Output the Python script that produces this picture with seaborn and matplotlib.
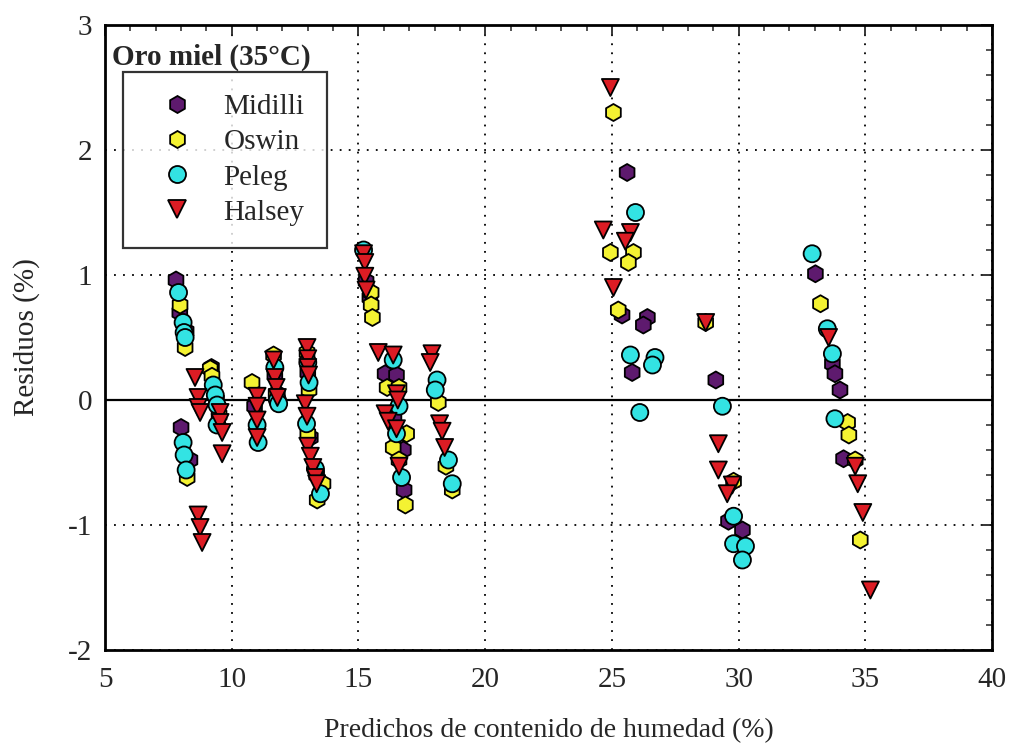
import numpy as np
import pandas as pd
import matplotlib
matplotlib.use("Agg")
import matplotlib.pyplot as plt
import seaborn as sns

# Residuals of the sorption models vs predicted moisture content
midilli_x = [7.8, 7.95, 8.2, 8.0, 8.35, 9.2, 9.4, 10.9, 11.7, 11.8, 13.0, 13.1, 13.35,
             15.3, 15.45, 16.05, 16.5, 16.77, 16.8, 16.4, 25.6, 25.4, 26.4, 26.24, 25.8,
             29.1, 29.6, 30.15, 33.03, 33.7, 33.8, 34.0, 34.14]
midilli_y = [0.96, 0.70, 0.55, -0.22, -0.48, 0.26, 0.0, -0.05, 0.2, 0.05, 0.22, -0.3, -0.6,
             0.95, 0.82, 0.21, 0.2, -0.4, -0.72, -0.15, 1.82, 0.68, 0.66, 0.6, 0.22,
             0.16, -0.97, -1.04, 1.01, 0.29, 0.21, 0.08, -0.47]

oswin_x = [7.96, 8.16, 8.24, 9.15, 9.22, 9.5, 10.8, 11.65, 11.75, 12.97, 13.05, 13.0, 13.6,
           13.37, 15.5, 15.5, 15.55, 16.13, 16.6, 16.9, 16.37, 16.6, 16.85, 18.15, 18.45,
           18.7, 25.06, 24.94, 25.85, 25.65, 25.25, 28.7, 29.8, 33.23, 34.3, 34.35, 34.6, 34.8]
oswin_y = [0.76, 0.42, -0.62, 0.25, 0.19, -0.12, 0.14, 0.36, 0.05, 0.38, 0.08, -0.27, -0.67,
           -0.8, 0.86, 0.76, 0.66, 0.1, 0.1, -0.27, -0.38, -0.48, -0.84, -0.02, -0.53,
           -0.72, 2.3, 1.18, 1.18, 1.1, 0.72, 0.62, -0.65, 0.77, -0.18, -0.28, -0.48, -1.12]

peleg_x = [7.9, 8.08, 8.12, 8.16, 8.08, 8.12, 8.2, 9.27, 9.35, 9.42, 9.42, 11.04, 11.0,
           11.7, 11.8, 11.85, 13.0, 13.05, 12.95, 13.5, 13.3, 15.2, 16.37, 16.6, 16.5, 16.7,
           18.1, 18.03, 18.55, 18.7, 25.93, 25.73, 26.7, 26.6, 26.1, 29.36, 29.8, 29.8,
           30.27, 30.15, 32.9, 33.5, 33.7, 33.8]
peleg_y = [0.86, 0.62, 0.54, 0.5, -0.34, -0.44, -0.56, 0.12, 0.04, -0.04, -0.2, -0.34, -0.2,
           0.26, 0.0, -0.03, 0.3, 0.14, -0.19, -0.75, -0.55, 1.2, 0.32, -0.05, -0.27, -0.62,
           0.16, 0.08, -0.48, -0.67, 1.5, 0.36, 0.34, 0.28, -0.1, -0.05, -0.93, -1.15,
           -1.17, -1.28, 1.17, 0.57, 0.37, -0.15]

halsey_x = [8.55, 8.67, 8.67, 8.75, 8.67, 8.75, 8.83, 9.54, 9.54, 9.62, 9.62, 11.0, 11.0,
            11.0, 11.0, 11.65, 11.7, 11.75, 11.8, 12.97, 13.0, 13.0, 13.03, 12.9, 12.97,
            13.0, 13.1, 13.2, 13.3, 13.35, 15.2, 15.25, 15.25, 15.3, 15.78, 16.37, 16.5,
            16.55, 16.05, 16.17, 16.5, 16.6, 17.9, 17.83, 18.2, 18.3, 18.4, 24.94, 24.66,
            25.73, 25.53, 25.06, 28.7, 29.2, 29.2, 29.75, 29.55, 33.55, 34.6, 34.7, 34.9, 35.2]
halsey_y = [0.18, 0.02, -0.06, -0.1, -0.92, -1.02, -1.14, -0.1, -0.18, -0.26, -0.43, 0.03,
            -0.05, -0.16, -0.3, 0.32, 0.18, 0.1, 0.02, 0.42, 0.33, 0.26, 0.2, -0.03, -0.13,
            -0.37, -0.45, -0.54, -0.62, -0.67, 1.17, 1.1, 0.99, 0.88, 0.38, 0.36, 0.05,
            0.0, -0.11, -0.17, -0.23, -0.53, 0.37, 0.3, -0.19, -0.25, -0.38, 2.5, 1.36,
            1.34, 1.27, 0.9, 0.62, -0.35, -0.56, -0.68, -0.75, 0.5, -0.53, -0.67, -0.9, -1.52]

models = ["Midilli", "Oswin", "Peleg", "Halsey"]
x_ticks = [5, 10, 15, 20, 25, 30, 35, 40]
y_ticks = [-2, -1, 0, 1, 2, 3]

frames = []
for name, xs, ys in zip(models,
                        [midilli_x, oswin_x, peleg_x, halsey_x],
                        [midilli_y, oswin_y, peleg_y, halsey_y]):
    frames.append(pd.DataFrame({"pred": xs, "resid": ys, "model": name}))
df = pd.concat(frames, ignore_index=True)

palette = {"Midilli": "#5e1a6e", "Oswin": "#f4f232", "Peleg": "#33e3e3", "Halsey": "#dc1c24"}
markers = {"Midilli": "h", "Oswin": "h", "Peleg": "o", "Halsey": "v"}

sns.set_style("white")
plt.rcParams["font.family"] = ["Liberation Serif", "DejaVu Serif"]
plt.rcParams["axes.unicode_minus"] = False

fig = plt.figure(figsize=(10.12, 7.51), dpi=100)
ax = fig.add_axes([0.1038, 0.1345, 0.8765, 0.8322])

ax.axhline(0, color="black", lw=1.6, zorder=1)

sns.scatterplot(data=df, x="pred", y="resid", hue="model", style="model",
                palette=palette, markers=markers, hue_order=models, style_order=models,
                s=150, edgecolor="black", linewidth=1.3, ax=ax, zorder=3, legend=True)

ax.set_xlim(5, 40)
ax.set_ylim(-2, 3)
ax.set_xticks(x_ticks)
ax.set_yticks(y_ticks)
ax.set_xticks(np.arange(5, 40.01, 1), minor=True)
ax.set_yticks(np.arange(-2, 3.01, 0.2), minor=True)
ax.tick_params(which="major", direction="in", length=8, width=1.3,
               top=True, right=True, labelsize=21)
ax.tick_params(axis="x", which="major", pad=12)
ax.tick_params(axis="y", which="major", pad=9)
ax.tick_params(which="minor", direction="in", length=4, width=1.1,
               top=True, right=True)
ax.grid(True, which="major", color="black", linestyle=(0, (1, 4)), lw=1.3)
ax.set_axisbelow(True)
for sp in ax.spines.values():
    sp.set_linewidth(2)
    sp.set_color("black")

ax.set_xlabel("Predichos de contenido de humedad (%)", fontsize=20, labelpad=18)
ax.set_ylabel("Residuos (%)", fontsize=21, labelpad=20)

ax.text(0.008, 0.949, "Oro miel (35°C)", transform=ax.transAxes, fontsize=21,
        fontweight="bold", va="center", ha="left", zorder=5,
        bbox=dict(facecolor="white", edgecolor="none", pad=1))

handles, labels = ax.get_legend_handles_labels()
leg = ax.legend(handles, labels, loc="upper left", bbox_to_anchor=(0.0203, 0.925),
                borderaxespad=0, frameon=True, fancybox=False, fontsize=21,
                handletextpad=0.5, labelspacing=0.3, borderpad=0.75,
                handlelength=2.2, markerscale=1.0)
leg.get_frame().set_edgecolor("black")
leg.get_frame().set_linewidth(1.6)
leg.set_zorder(6)

fig.savefig("out.png", dpi=100)
